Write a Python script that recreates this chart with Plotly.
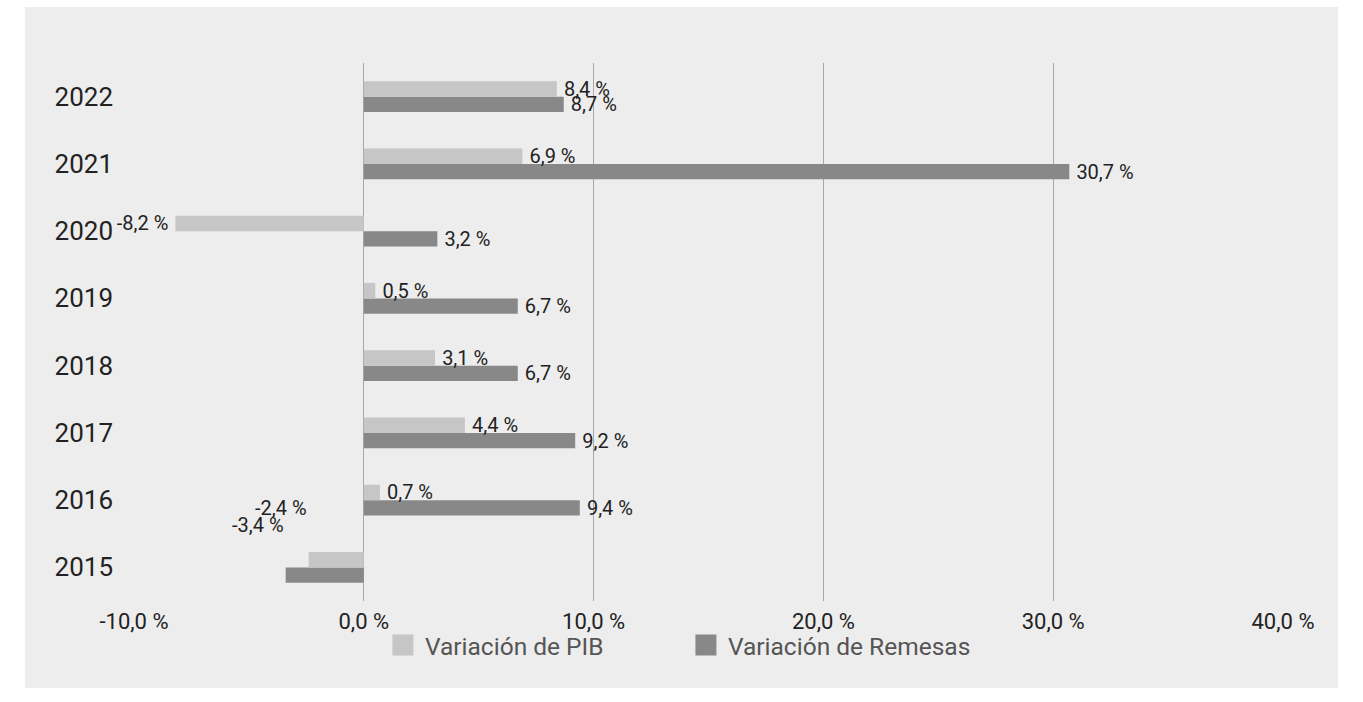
import plotly.graph_objects as go

years = ["2015", "2016", "2017", "2018", "2019", "2020", "2021", "2022"]
pib = [-2.4, 0.7, 4.4, 3.1, 0.5, -8.2, 6.9, 8.4]
remesas = [-3.4, 9.4, 9.2, 6.7, 6.7, 3.2, 30.7, 8.7]
x_ticks = [-10, 0, 10, 20, 30, 40]
x_tick_labels = ["-10,0 %", "0,0 %", "10,0 %", "20,0 %", "30,0 %", "40,0 %"]
series_names = ["Variación de PIB", "Variación de Remesas"]
series_colors = ["#c6c6c6", "#888888"]

# labels drawn as annotations (shifted above) for these categories
shifted_years = ["2015"]


def fmt(v):
    return f"{v:.1f}".replace(".", ",") + " %"


def bar_label(v):
    # thin space between bar end and label
    return "\u2009" + fmt(v) if v >= 0 else fmt(v) + "\u2009"


def bar_text(vals):
    return ["" if y in shifted_years else bar_label(v) for y, v in zip(years, vals)]


FONT = "Roboto"
TXT = "#222222"
LBL = 20

fig = go.Figure()
# Remesas first so that PIB sits on top within each group
fig.add_trace(go.Bar(
    y=years, x=remesas, orientation="h", name=series_names[1],
    marker=dict(color=series_colors[1], line=dict(width=0)),
    text=bar_text(remesas), textposition="outside", cliponaxis=False,
    constraintext="none", textfont=dict(family=FONT, size=LBL, color=TXT),
    showlegend=False, hoverinfo="x+y",
))
fig.add_trace(go.Bar(
    y=years, x=pib, orientation="h", name=series_names[0],
    marker=dict(color=series_colors[0], line=dict(width=0)),
    text=bar_text(pib), textposition="outside", cliponaxis=False,
    constraintext="none", textfont=dict(family=FONT, size=LBL, color=TXT),
    showlegend=False, hoverinfo="x+y",
))
# legend entries
for name, col in zip(series_names, series_colors):
    fig.add_trace(go.Scatter(
        x=[None], y=[years[0]], mode="markers", name=name,
        marker=dict(symbol="square", size=16, color=col,
                    line=dict(color=col, width=5)),
        hoverinfo="skip",
    ))

annotations = []
for i, (y, p, r) in enumerate(zip(years, pib, remesas)):
    if y in shifted_years:
        annotations.append(dict(x=p, y=i, xref="x", yref="y", text=fmt(p),
                                showarrow=False, xanchor="right", yanchor="middle",
                                yshift=59, font=dict(family=FONT, size=LBL, color=TXT)))
        annotations.append(dict(x=r, y=i, xref="x", yref="y", text=fmt(r),
                                showarrow=False, xanchor="right", yanchor="middle",
                                yshift=42, font=dict(family=FONT, size=LBL, color=TXT)))

fig.update_layout(
    width=1363, height=702,
    margin=dict(l=134, r=80, t=63, b=101, pad=0),
    paper_bgcolor="white",
    plot_bgcolor="rgba(0,0,0,0)",
    barmode="group", bargap=0.54, bargroupgap=0,
    font=dict(family=FONT, color=TXT),
    shapes=[dict(type="rect", xref="paper", yref="paper",
                 x0=-0.0949, x1=1.0479, y0=-0.1617, y1=1.1041,
                 fillcolor="#ededed", line=dict(width=0), layer="below")],
    annotations=annotations,
    legend=dict(orientation="h", x=0.4786, y=-0.082, xanchor="center", yanchor="middle",
                font=dict(family=FONT, size=24.5, color="#555555"),
                traceorder="normal", itemwidth=34, entrywidth=254,
                bgcolor="rgba(0,0,0,0)"),
    xaxis=dict(range=[-10, 40], tickvals=x_ticks, ticktext=x_tick_labels,
               showgrid=True, gridcolor="#a8a8a8", gridwidth=1,
               zeroline=True, zerolinecolor="#a8a8a8", zerolinewidth=1,
               showline=False, ticks="", ticklabelstandoff=5,
               tickfont=dict(family=FONT, size=22, color=TXT), fixedrange=True),
    yaxis=dict(type="category", categoryorder="array", categoryarray=years,
               range=[-0.5, len(years) - 0.5],
               showgrid=False, zeroline=False, showline=False, ticks="",
               ticklabelstandoff=20,
               tickfont=dict(family=FONT, size=26, color=TXT), fixedrange=True),
)

fig.write_html("out.html", post_script="document.body.style.margin='0';",
               config={"displayModeBar": False})
